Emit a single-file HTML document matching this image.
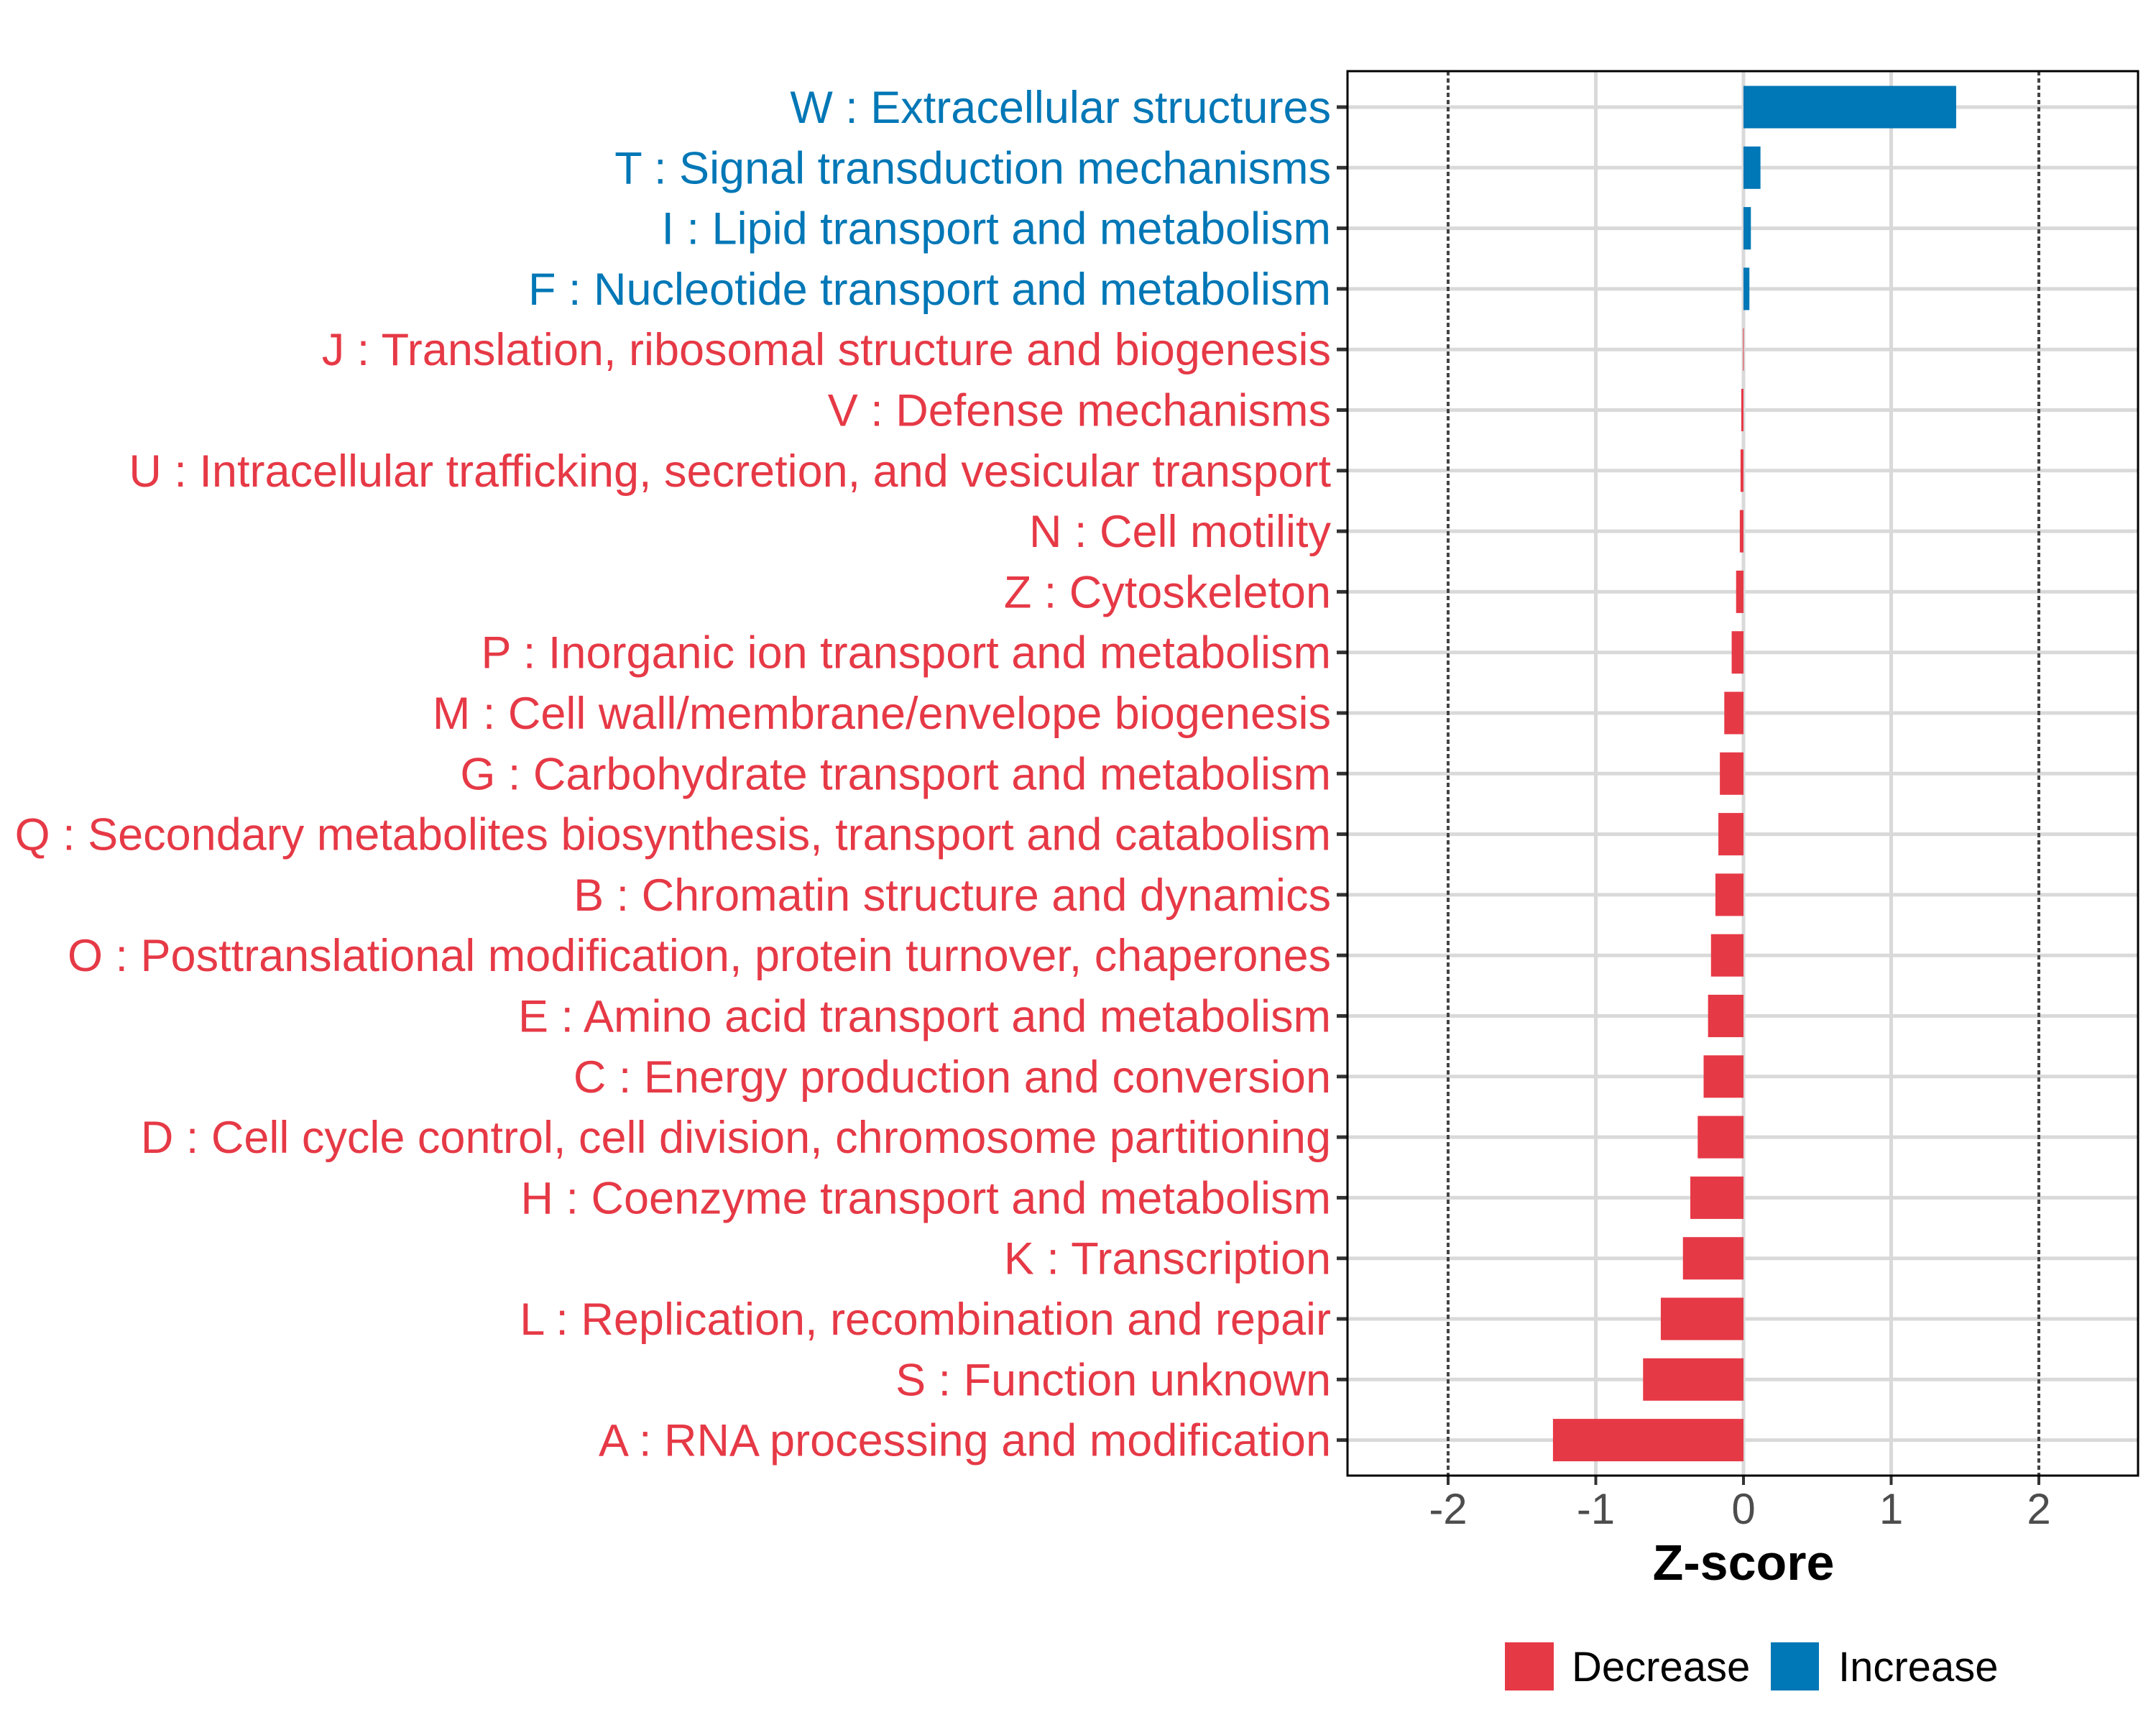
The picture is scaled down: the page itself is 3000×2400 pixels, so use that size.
<!DOCTYPE html>
<html><head><meta charset="utf-8"><style>
html,body{margin:0;padding:0;background:#fff;}
svg{display:block;font-family:"Liberation Sans",Arial,sans-serif;}
</style></head><body>
<svg id="chart" width="3000" height="2400" viewBox="0 0 3000 2400" xmlns="http://www.w3.org/2000/svg">
<rect x="0" y="0" width="3000" height="2400" fill="#fff"/>
<g id="grid"></g>
<g id="bars"></g>
<g id="ylabels"></g>
<g id="xaxis"></g>
<rect x="1875" y="99" width="1100" height="1954" fill="none" stroke="#000" stroke-width="3"/>
<text x="2426" y="2198" text-anchor="middle" font-size="70" font-weight="bold" fill="#000">Z-score</text>
<g>
<rect x="2094" y="2285" width="68" height="67" fill="#E63946"/>
<text x="2187" y="2339" font-size="58" fill="#000">Decrease</text>
<rect x="2464" y="2285" width="67" height="67" fill="#0077B6"/>
<text x="2558" y="2339" font-size="58" fill="#000">Increase</text>
</g>
</svg>
<script>
const categories = ["W : Extracellular structures","T : Signal transduction mechanisms","I : Lipid transport and metabolism","F : Nucleotide transport and metabolism","J : Translation, ribosomal structure and biogenesis","V : Defense mechanisms","U : Intracellular trafficking, secretion, and vesicular transport","N : Cell motility","Z : Cytoskeleton","P : Inorganic ion transport and metabolism","M : Cell wall/membrane/envelope biogenesis","G : Carbohydrate transport and metabolism","Q : Secondary metabolites biosynthesis, transport and catabolism","B : Chromatin structure and dynamics","O : Posttranslational modification, protein turnover, chaperones","E : Amino acid transport and metabolism","C : Energy production and conversion","D : Cell cycle control, cell division, chromosome partitioning","H : Coenzyme transport and metabolism","K : Transcription","L : Replication, recombination and repair","S : Function unknown","A : RNA processing and modification"];
const zscores = [1.44,0.115,0.05,0.04,-0.003,-0.015,-0.02,-0.025,-0.05,-0.08,-0.13,-0.16,-0.17,-0.19,-0.22,-0.24,-0.27,-0.31,-0.36,-0.41,-0.56,-0.68,-1.29];
const xTicks = [-2,-1,0,1,2];
const xTickLabels = ["-2","-1","0","1","2"];
const thresholds = [-2,2];

const NS="http://www.w3.org/2000/svg";
const X0=2426, UNIT=205.5, Y0=149, STEP=84.3, BH=59, PL=1875, PR=2975;
const xs=v=>X0+v*UNIT;
const ys=i=>Y0+i*STEP;
const RED="#E63946", BLUE="#0077B6";
function mk(tag,attrs,parent){const e=document.createElementNS(NS,tag);for(const k in attrs)e.setAttribute(k,attrs[k]);parent.appendChild(e);return e;}
const grid=document.getElementById('grid'), bars=document.getElementById('bars'), yl=document.getElementById('ylabels'), xa=document.getElementById('xaxis');
xTicks.forEach((t,i)=>{
  if(thresholds.indexOf(t)<0){
    const l=mk('line',{x1:xs(t),x2:xs(t),y1:99,y2:2053,stroke:'#d9d9d9','stroke-width':5},grid);
    
    
  }
  const tk=mk('line',{x1:xs(t),x2:xs(t),y1:2053,y2:2066,stroke:'#333','stroke-width':4},xa);
  
  
  const tl=mk('text',{x:xs(t),y:2120,'text-anchor':'middle','font-size':60,fill:'#4d4d4d'},xa);
  tl.textContent=xTickLabels[i];
  
  
});
categories.forEach((c,i)=>{
  const g=mk('line',{x1:PL,x2:PR,y1:ys(i),y2:ys(i),stroke:'#d9d9d9','stroke-width':5},grid);
  
  
});
thresholds.forEach(t=>{
  const l=mk('line',{x1:xs(t),x2:xs(t),y1:99,y2:2053,stroke:'#444','stroke-width':4,'stroke-dasharray':'6 4'},grid);
  
  
});
categories.forEach((c,i)=>{
  const v=zscores[i];
  const col=v>=0?BLUE:RED;
  const x=Math.min(xs(0),xs(v)), w=Math.max(Math.abs(xs(v)-xs(0)),1);
  const r=mk('rect',{x:x,y:ys(i)-BH/2,width:w,height:BH,fill:col},bars);
  
  
  const tk=mk('line',{x1:PL-15,x2:PL,y1:ys(i),y2:ys(i),stroke:'#333','stroke-width':5},yl);
  
  
  const t=mk('text',{x:1852,y:ys(i)+22,'text-anchor':'end','font-size':63,fill:col},yl);
  t.textContent=c;
  
  
});
</script>
</body></html>
